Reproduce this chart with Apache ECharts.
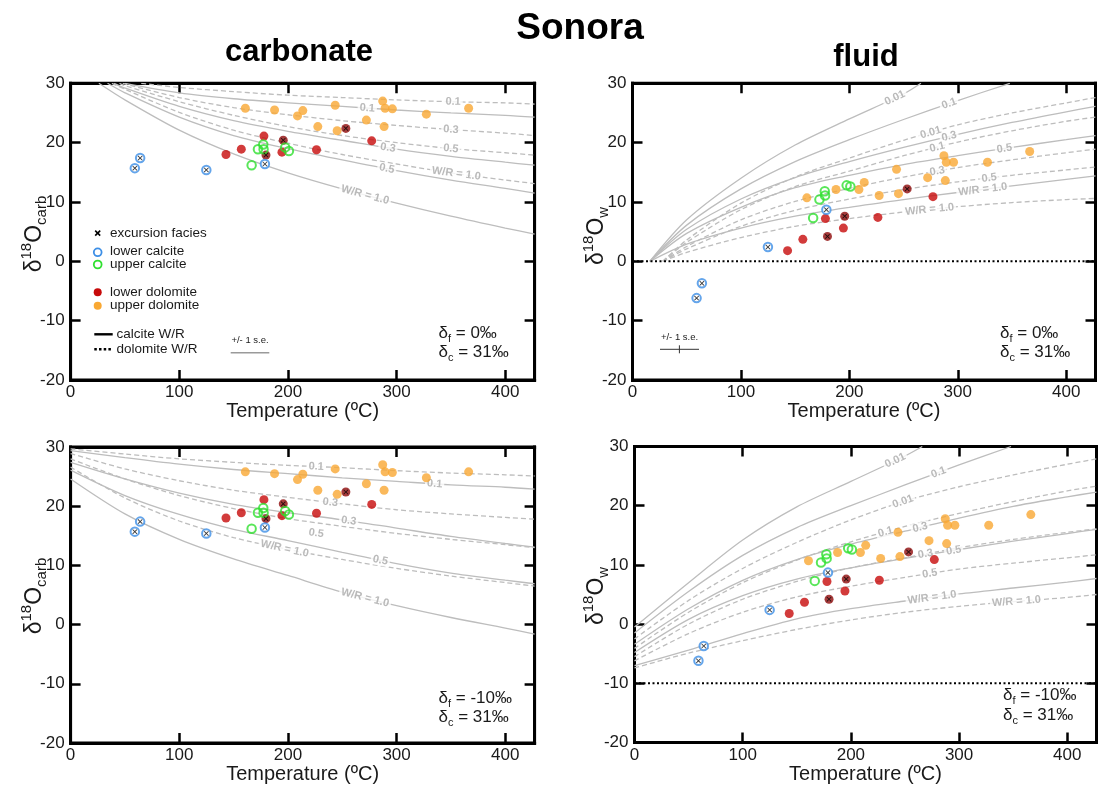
<!DOCTYPE html>
<html><head><meta charset="utf-8">
<script src="https://cdn.jsdelivr.net/npm/echarts/dist/echarts.min.js"></script>
<style>html,body{margin:0;padding:0;background:#fff}#c{width:1098px;height:786px}</style>
</head><body><div id="c"></div>
<script>
// ---------------- sample data ----------------
const udT     = [160.8,187.7,208.8,213.7,227.5,243.5,245.3,272.2,287.2,289.4,288.5,296.1,327.4,366.3];
const udCarb  = [25.8,25.5,24.5,25.4,22.7,26.3,22.0,23.8,27.0,25.8,22.7,25.7,24.8,25.8];
const udFluid = [10.7,12.1,12.1,13.3,11.1,15.5,11.4,14.1,17.8,16.7,13.6,16.7,16.7,18.5];

const ldT     = [143.0,157.1,177.9,179.8,195.7,194.5,226.3,253.3,277.1];
const ldCarb  = [18.0,18.9,21.1,17.9,20.4,18.4,18.8,22.4,20.3];
const ldFluid = [1.8,3.7,7.2,4.2,7.6,5.6,7.4,12.2,10.9];
const ldExc   = [0,0,0,1,1,0,0,1,0];

const ucT     = [166.6,172.4,177.3,177.6,197.5,200.9];
const ucCarb  = [16.2,18.9,19.7,18.9,19.2,18.6];
const ucFluid = [7.3,10.4,11.8,11.1,12.8,12.6];

const lcT     = [59.1,64.0,124.9,178.8];
const lcCarb  = [15.7,17.4,15.4,16.4];
const lcFluid = [-6.2,-3.7,2.4,8.7];
const lcExc   = [1,1,1,1];

const xTicks = [0,100,200,300,400];
const yTicks = [-20,-10,0,10,20,30];

// ---------------- W/R model curves [T, delta] ----------------
// carbonate, delta_f = 0
const tlCal01 = [[50,30],[100,28.4],[150,27.4],[200,26.7],[250,26.1],[300,25.5],[350,25.0],[400,24.6],[427,24.3]];
const tlDol01 = [[65,30],[100,29.3],[150,28.6],[200,28.0],[250,27.6],[300,27.2],[350,26.9],[400,26.7],[427,26.5]];
const tlCal03 = [[40,30],[50,29.2],[100,26.1],[150,23.7],[200,21.9],[250,20.4],[300,18.9],[350,17.7],[400,16.7],[427,16.2]];
const tlDol03 = [[48,30],[100,27.6],[150,25.9],[200,24.7],[250,23.7],[300,22.9],[350,22.2],[400,21.6],[427,21.2]];
const tlCal05 = [[34,30],[50,28.4],[100,24.3],[150,21.2],[200,19.0],[250,17.1],[300,15.3],[350,13.7],[400,12.3],[427,11.5]];
const tlDol05 = [[45,30],[50,29.6],[100,26.9],[150,24.6],[200,22.7],[250,21.2],[300,20.0],[350,19.0],[400,18.3],[427,17.9]];
const tlCal10 = [[26,30],[50,27.2],[100,22.1],[150,18.1],[200,14.9],[250,12.2],[300,9.8],[350,7.6],[400,5.6],[427,4.6]];
const tlDol10 = [[38,30],[50,29.0],[100,25.1],[150,22.1],[200,19.9],[250,18.0],[300,16.4],[350,14.9],[400,13.7],[427,13.1]];
// fluid, delta_f = 0
const trCal001 = [[16,0],[50,7.0],[100,14.0],[150,19.6],[200,24.0],[250,28.2],[266,30]];
const trCal01  = [[16,0],[50,6.1],[100,12.2],[150,16.8],[200,20.5],[250,23.9],[300,27.1],[348,30]];
const trDol001 = [[28,0],[50,3.6],[100,9.8],[150,14.2],[200,17.4],[250,20.4],[300,23.0],[350,25.0],[400,26.7],[427,27.6]];
const trCal03  = [[16,0],[50,5.4],[100,10.5],[150,14.1],[200,16.8],[250,19.2],[300,21.4],[350,23.4],[400,25.2],[427,26.1]];
const trDol01  = [[28,0],[50,3.2],[100,8.7],[150,12.6],[200,15.2],[250,17.8],[300,20.1],[350,22.0],[400,23.6],[427,24.3]];
const trCal05  = [[16,0],[50,4.7],[100,9.1],[150,12.4],[200,14.5],[250,16.3],[300,17.8],[350,19.2],[400,20.5],[427,21.2]];
const trDol03  = [[28,0],[50,2.5],[100,7.0],[150,10.1],[200,12.3],[250,14.2],[300,15.8],[350,17.1],[400,18.3],[427,18.9]];
const trDol05  = [[28,0],[50,2.1],[100,5.9],[150,8.6],[200,10.5],[250,12.1],[300,13.4],[350,14.5],[400,15.4],[427,15.9]];
const trCal10  = [[16,0],[50,2.9],[100,5.6],[150,7.6],[200,9.1],[250,10.4],[300,11.6],[350,12.7],[400,13.8],[427,14.4]];
const trDol10  = [[28,0],[50,1.5],[100,4.0],[150,5.9],[200,7.2],[250,8.3],[300,9.2],[350,9.9],[400,10.4],[427,10.6]];
// carbonate, delta_f = -10
const blDol01 = [[0,29.7],[50,28.8],[100,28.0],[150,27.4],[200,26.9],[250,26.5],[300,26.0],[350,25.6],[400,25.3],[427,25.1]];
const blCal01 = [[0,29.4],[50,28.2],[100,27.1],[150,26.2],[200,25.5],[250,24.8],[300,24.2],[350,23.6],[400,23.2],[427,22.9]];
const blDol03 = [[0,28.9],[50,26.3],[100,24.3],[150,22.7],[200,21.5],[250,20.4],[300,19.4],[350,18.7],[400,18.1],[427,17.8]];
const blCal03 = [[0,27.4],[50,24.6],[100,22.2],[150,20.3],[200,18.9],[250,17.7],[300,16.3],[350,14.9],[400,13.7],[427,13.1]];
const blDol05 = [[0,28.0],[50,24.6],[100,21.8],[150,19.6],[200,17.9],[250,16.6],[300,15.4],[350,14.4],[400,13.5],[427,13.0]];
const blCal05 = [[0,26.1],[50,21.8],[100,18.6],[150,16.1],[200,14.2],[250,12.2],[300,10.3],[350,8.7],[400,7.5],[427,6.9]];
const blDol10 = [[0,26.6],[50,21.4],[100,17.5],[150,14.7],[200,12.7],[250,11.0],[300,9.5],[350,8.2],[400,7.1],[427,6.5]];
const blCal10 = [[0,24.6],[50,18.7],[100,14.4],[150,11.1],[200,8.3],[250,5.5],[300,3.2],[350,1.2],[400,-0.6],[427,-1.6]];
// fluid, delta_f = -10
const brCal001 = [[0,-0.5],[50,7.0],[100,14.2],[150,19.8],[200,24.1],[250,28.4],[266,30]];
const brCal01  = [[0,-1.5],[50,5.5],[100,11.6],[150,16.3],[200,20.0],[250,23.5],[300,26.9],[348,30]];
const brDol001 = [[0,-2.5],[50,4.0],[100,9.4],[150,13.8],[200,17.6],[250,20.8],[300,23.2],[350,25.2],[400,27.0],[427,27.9]];
const brCal03  = [[0,-3.4],[50,2.6],[100,7.4],[150,10.9],[200,13.5],[250,15.7],[300,17.9],[350,19.9],[400,21.5],[427,22.3]];
const brDol01  = [[0,-4.1],[50,2.0],[100,7.0],[150,10.8],[200,13.9],[250,16.5],[300,18.7],[350,20.7],[400,22.5],[427,23.3]];
const brCal05  = [[0,-4.8],[50,0.8],[100,4.8],[150,7.6],[200,9.5],[250,11.1],[300,12.6],[350,14.0],[400,15.3],[427,16.0]];
const brDol03  = [[0,-5.5],[50,0.0],[100,4.2],[150,7.2],[200,9.5],[250,11.2],[300,12.9],[350,14.3],[400,15.5],[427,16.1]];
const brDol05  = [[0,-6.2],[50,-1.6],[100,2.0],[150,4.6],[200,6.4],[250,7.9],[300,9.3],[350,10.3],[400,11.2],[427,11.7]];
const brCal10  = [[0,-7.0],[50,-4.4],[100,-1.6],[150,0.9],[200,2.6],[250,3.9],[300,5.1],[350,6.1],[400,7.1],[427,7.7]];
const brDol10  = [[0,-7.4],[50,-4.9],[100,-2.8],[150,-0.9],[200,0.7],[250,2.0],[300,3.0],[350,3.8],[400,4.5],[427,5.0]];

// curve labels: [curve, T at label, text, optional offset below the curve (per mil)]
const tlLabels = [[tlDol01,352,'0.1'],[tlCal01,273,'0.1'],[tlDol03,350,'0.3'],[tlCal03,292,'0.3'],[tlDol05,350,'0.5'],[tlCal05,291,'0.5'],[tlDol10,355,'W/R = 1.0'],[tlCal10,271,'W/R = 1.0']];
const trLabels = [[trCal001,242,'0.01'],[trCal01,292,'0.1'],[trDol001,275,'0.01'],[trCal03,292,'0.3'],[trDol01,281,'0.1'],[trCal05,343,'0.5'],[trDol03,281,'0.3'],[trDol05,329,'0.5'],[trCal10,323,'W/R = 1.0'],[trDol10,274,'W/R = 1.0']];
const blLabels = [[blDol01,226,'0.1'],[blCal01,335,'0.1'],[blDol03,239,'0.3'],[blCal03,256,'0.3'],[blDol05,226,'0.5',1.8],[blCal05,285,'0.5'],[blDol10,197,'W/R = 1.0'],[blCal10,271,'W/R = 1.0']];
const brLabels = [[brCal001,241,'0.01'],[brCal01,281,'0.1'],[brDol001,248,'0.01'],[brDol01,232,'0.1'],[brCal03,264,'0.3'],[brDol03,269,'0.3'],[brCal05,295,'0.5'],[brDol05,273,'0.5'],[brCal10,275,'W/R = 1.0'],[brDol10,353,'W/R = 1.0']];

// ---------------- layout ----------------
const FONT = '"Liberation Sans", Arial, Helvetica, sans-serif';
const XMAX = 427;
const GRIDS = [
  {left:70.6, top:83.3, width:464, height:296.7},
  {left:632.5, top:83.3, width:463, height:296.7},
  {left:70.6, top:447, width:464, height:296},
  {left:634.5, top:446.5, width:462, height:296}
];
const CURVE_COLOR = '#bdbdbd';

const panels = [
  {g:0, solid:[tlCal01,tlCal03,tlCal05,tlCal10], dashed:[tlDol01,tlDol03,tlDol05,tlDol10], labels:tlLabels, fluid:false},
  {g:1, solid:[trCal001,trCal01,trCal03,trCal05,trCal10], dashed:[trDol001,trDol01,trDol03,trDol05,trDol10], labels:trLabels, fluid:true, zero:0},
  {g:2, solid:[blCal01,blCal03,blCal05,blCal10], dashed:[blDol01,blDol03,blDol05,blDol10], labels:blLabels, fluid:false},
  {g:3, solid:[brCal001,brCal01,brCal03,brCal05,brCal10], dashed:[brDol001,brDol01,brDol03,brDol05,brDol10], labels:brLabels, fluid:true, zero:-10}
];

const mctx = document.createElement('canvas').getContext('2d');
function tw(t, size, weight){ mctx.font = (weight||'normal') + ' ' + size + 'px ' + FONT; return mctx.measureText(t).width; }
function run(x, y, pieces, rotation, center){
  let total = 0; pieces.forEach(p => total += tw(p.t, p.size, p.w));
  let cx = center ? -total/2 : 0; const children = [];
  pieces.forEach(p => {
    children.push({type:'text', x:cx, y:(p.dy||0), silent:true,
      style:{text:p.t, fontSize:p.size, fontFamily:FONT, fontWeight:p.w||'normal', fill:p.c||'#1a1a1a',
             textAlign:'left', textVerticalAlign:'middle', align:'left', verticalAlign:'middle'}});
    cx += tw(p.t, p.size, p.w);
  });
  return {type:'group', x:x, y:y, rotation:rotation||0, children:children, silent:true};
}

function interp(curve, x){
  for (let i=0;i<curve.length-1;i++){
    const a=curve[i], b=curve[i+1];
    if (x>=a[0] && x<=b[0]){ const s=(b[1]-a[1])/(b[0]-a[0]); return {y:a[1]+s*(x-a[0]), s:s}; }
  }
  const a=curve[curve.length-2], b=curve[curve.length-1];
  return {y:b[1], s:(b[1]-a[1])/(b[0]-a[0])};
}

const xAxis = [], yAxis = [], series = [];
const tick = () => ({show:true, inside:true, length:10, lineStyle:{color:'#000', width:2.5}});
const frameLine = () => ({show:true, onZero:false, lineStyle:{color:'#000', width:3, cap:'square'}});
panels.forEach(p => {
  const g = p.g;
  xAxis.push({type:'value', gridIndex:g, min:0, max:XMAX, interval:100, position:'bottom',
    axisLine:frameLine(), axisTick:tick(), splitLine:{show:false},
    axisLabel:{show:true, color:'#1a1a1a', fontSize:17, fontFamily:FONT, margin:4, formatter:v => xTicks.includes(v) ? String(v) : ''},
    name:'Temperature (ºC)', nameLocation:'middle', nameGap:13, nameTextStyle:{fontSize:20, color:'#1a1a1a', fontFamily:FONT, verticalAlign:'top'}});
  xAxis.push({type:'value', gridIndex:g, min:0, max:XMAX, interval:100, position:'top',
    axisLine:frameLine(), axisTick:tick(), splitLine:{show:false}, axisLabel:{show:false}});
  yAxis.push({type:'value', gridIndex:g, min:-20, max:30, interval:10, position:'left',
    axisLine:frameLine(), axisTick:tick(), splitLine:{show:false},
    axisLabel:{show:true, color:'#1a1a1a', fontSize:17, fontFamily:FONT, margin:6, formatter:v => yTicks.includes(v) ? String(v) : ''}});
  yAxis.push({type:'value', gridIndex:g, min:-20, max:30, interval:10, position:'right',
    axisLine:frameLine(), axisTick:tick(), splitLine:{show:false}, axisLabel:{show:false}});

  const xi = 2*g, yi = 2*g;
  const mk = (data, dashed) => ({type:'line', xAxisIndex:xi, yAxisIndex:yi, data:data, smooth:0.3,
    showSymbol:false, symbol:'none', silent:true, z:2, animation:false,
    lineStyle:{color:CURVE_COLOR, width:1.3, type: dashed ? [5,3] : 'solid'}});
  p.solid.forEach(c => series.push(mk(c,false)));
  p.dashed.forEach(c => series.push(mk(c,true)));

  if (p.fluid){
    series.push({type:'line', xAxisIndex:xi, yAxisIndex:yi, data:[[0,p.zero],[XMAX,p.zero]], showSymbol:false, symbol:'none',
      silent:true, z:3, lineStyle:{color:'#000', width:2, type:[2,2.5]}});
  }

  const gr = GRIDS[g];
  const ratio = (gr.height/50)/(gr.width/XMAX);
  series.push({type:'scatter', xAxisIndex:xi, yAxisIndex:yi, symbolSize:1, itemStyle:{color:'rgba(0,0,0,0)'}, silent:true, z:4,
    data: p.labels.map(l => { const r = interp(l[0], l[1]);
      return {value:[l[1], r.y - (l[3]||0)], label:{show:true, position:'inside', formatter:l[2],
        rotate: Math.atan(r.s*ratio)*180/Math.PI, color:'#a9a9a9', fontSize:11, fontWeight:'bold', fontFamily:FONT,
        backgroundColor: l[3] ? 'rgba(0,0,0,0)' : '#fff', padding:[0,2]}}; })});

  const yv = (carb, fluid) => p.fluid ? fluid : carb;
  series.push({type:'scatter', xAxisIndex:xi, yAxisIndex:yi, symbolSize:9, z:5, itemStyle:{color:'#F9A833'},
    data: udT.map((t,i) => [t, yv(udCarb,udFluid)[i]])});
  series.push({type:'scatter', xAxisIndex:xi, yAxisIndex:yi, symbolSize:9, z:5,
    data: ldT.map((t,i) => ({value:[t, yv(ldCarb,ldFluid)[i]], itemStyle:{color: ldExc[i] ? '#8F0A0A' : '#C70A0A'}}))});
  series.push({type:'scatter', xAxisIndex:xi, yAxisIndex:yi, symbolSize:8.5, z:5,
    itemStyle:{color:'rgba(255,255,255,0)', borderColor:'#2FE02F', borderWidth:2},
    data: ucT.map((t,i) => [t, yv(ucCarb,ucFluid)[i]])});
  series.push({type:'scatter', xAxisIndex:xi, yAxisIndex:yi, symbolSize:8.5, z:5,
    itemStyle:{color:'#fff', borderColor:'#3D8FE6', borderWidth:2},
    data: lcT.map((t,i) => [t, yv(lcCarb,lcFluid)[i]])});
  const exc = [];
  ldT.forEach((t,i) => { if (ldExc[i]) exc.push([t, yv(ldCarb,ldFluid)[i]]); });
  lcT.forEach((t,i) => { if (lcExc[i]) exc.push([t, yv(lcCarb,lcFluid)[i]]); });
  series.push({type:'scatter', xAxisIndex:xi, yAxisIndex:yi, symbolSize:5, z:6, silent:true,
    symbol:'path://M0,1.2L1.2,0L5,3.8L8.8,0L10,1.2L6.2,5L10,8.8L8.8,10L5,6.2L1.2,10L0,8.8L3.8,5Z',
    itemStyle:{color:'#000'}, data:exc});
});

// ---------------- graphics (titles, legend, notes) ----------------
const graphic = [];
const T = (x,y,text,size,opt) => graphic.push(Object.assign({type:'text', x:x, y:y, silent:true,
  style:Object.assign({text:text, fontSize:size, fontFamily:FONT, fill:'#1a1a1a', textAlign:'left', textVerticalAlign:'middle', align:'left', verticalAlign:'middle'}, opt||{})}));
T(580, 29, 'Sonora', 37, {fontWeight:'bold', fill:'#000', textAlign:'center', align:'center'});
T(299, 52, 'carbonate', 31, {fontWeight:'bold', fill:'#000', textAlign:'center', align:'center'});
T(866, 57, 'fluid', 31, {fontWeight:'bold', fill:'#000', textAlign:'center', align:'center'});

const carbName = [{t:'δ',size:23},{t:'18',size:15,dy:-8},{t:'O',size:23},{t:'carb',size:15,dy:7}];
const wName = [{t:'δ',size:23},{t:'18',size:15,dy:-8},{t:'O',size:23},{t:'w',size:15,dy:7}];
graphic.push(run(35, 234, carbName, Math.PI/2, true));
graphic.push(run(35, 596, carbName, Math.PI/2, true));
graphic.push(run(597, 236, wName, Math.PI/2, true));
graphic.push(run(597, 596, wName, Math.PI/2, true));

const L = (x1,y1,x2,y2,st) => graphic.push({type:'line', silent:true, shape:{x1:x1,y1:y1,x2:x2,y2:y2}, style:Object.assign({stroke:'#000', lineWidth:1.6}, st||{})});
L(95.2,230.6,100.2,235.6); L(100.2,230.6,95.2,235.6);
T(110, 233, 'excursion facies', 13.5);
graphic.push({type:'circle', silent:true, shape:{cx:97.7, cy:252.3, r:3.9}, style:{fill:'#fff', stroke:'#3D8FE6', lineWidth:1.8}});
T(110, 251.5, 'lower calcite', 13.5);
graphic.push({type:'circle', silent:true, shape:{cx:97.7, cy:264.5, r:3.9}, style:{fill:'#fff', stroke:'#2FE02F', lineWidth:1.8}});
T(110, 264.5, 'upper calcite', 13.5);
graphic.push({type:'circle', silent:true, shape:{cx:97.7, cy:292.3, r:4}, style:{fill:'#C70A0A'}});
T(110, 292, 'lower dolomite', 13.5);
graphic.push({type:'circle', silent:true, shape:{cx:97.7, cy:305.7, r:4}, style:{fill:'#F9A833'}});
T(110, 305.5, 'upper dolomite', 13.5);
L(94.3,334.3,112.7,334.3,{lineWidth:2.4});
T(116.5, 334, 'calcite W/R', 13.5);
L(94.3,349.3,112.7,349.3,{lineWidth:2.4, lineDash:[2.5,2.2]});
T(116.5, 349, 'dolomite W/R', 13.5);
T(250, 340, '+/- 1 s.e.', 9.5, {textAlign:'center', align:'center'});
L(230.7,352.7,269.3,352.7,{stroke:'#9a9a9a', lineWidth:1.6});
T(679.5, 337.5, '+/- 1 s.e.', 9.5, {textAlign:'center', align:'center'});
L(660,349.3,699,349.3,{stroke:'#333', lineWidth:1});
L(679.4,345.3,679.4,353.3,{stroke:'#333', lineWidth:1});

const D = (x,y,sub,val) => graphic.push(run(x, y, [{t:'δ',size:17},{t:sub,size:11,dy:6},{t:' = '+val,size:17}], 0, false));
D(438.5, 333, 'f', '0‰');    D(438.5, 352, 'c', '31‰');
D(1000, 333, 'f', '0‰');     D(1000, 352, 'c', '31‰');
D(438.5, 698, 'f', '-10‰');  D(438.5, 717, 'c', '31‰');
D(1003, 695, 'f', '-10‰');   D(1003, 715, 'c', '31‰');

const chart = echarts.init(document.getElementById('c'), null, {renderer:'canvas'});
chart.setOption({
  animation:false,
  backgroundColor:'#fff',
  grid: GRIDS.map(gr => Object.assign({show:true, borderColor:'#000', borderWidth:3, backgroundColor:'rgba(0,0,0,0)',
    containLabel:false, outerBoundsMode:'none'}, gr)),
  xAxis: xAxis, yAxis: yAxis, series: series, graphic: graphic
});
</script></body></html>
